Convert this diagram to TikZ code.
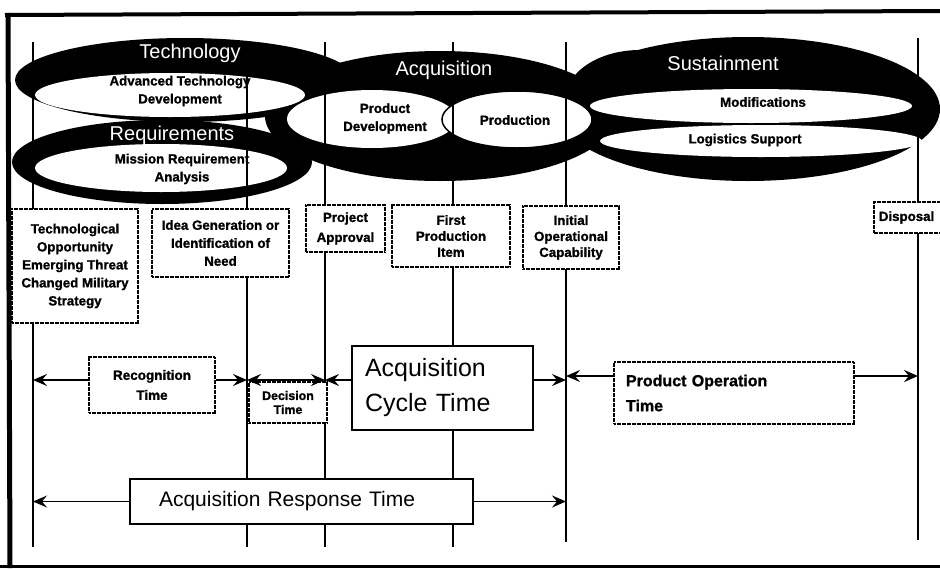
\documentclass[tikz,border=0pt]{standalone}
\usepackage{fontspec}
\setmainfont{Liberation Sans}[BoldFeatures={FakeBold=1.2}]
\usetikzlibrary{positioning,arrows.meta}

\tikzset{
  stipple/.style={draw, line width=1.7pt, dash pattern=on 2pt off 0.5pt, fill=white, inner sep=0pt, align=center},
  plainbox/.style={draw, line width=1.7pt, fill=white, inner sep=0pt},
  lbl/.style={font=\fontsize{13.3}{18}\selectfont\bfseries, align=center},
  tight/.style={font=\fontsize{13.3}{16}\selectfont\bfseries, align=center},
  head/.style={text=white, font=\fontsize{20}{24}\selectfont},
  vline/.style={line width=1.7pt},
  tip/.tip={Stealth[length=14pt,width=12pt,inset=5pt]},
  arr/.style={-tip, line width=1.8pt},
  arrboth/.style={tip-tip, line width=1.8pt},
}

\begin{document}
\begin{tikzpicture}[x=1pt,y=-1pt]
\useasboundingbox (0,0) rectangle (940,568);
\clip (0,0) rectangle (940,568);

% black phase bands
\fill (185,80) ellipse [x radius=170, y radius=42];
\fill (162,162) ellipse [x radius=150, y radius=42];
\fill (440,116) ellipse [x radius=175, y radius=65];
\fill (748,109) ellipse [x radius=192, y radius=72];
\fill (640,100) ellipse [x radius=75, y radius=50];

% white activity ellipses
\fill[white] (170,95) ellipse [x radius=135, y radius=22];
\fill[white] (161,168) ellipse [x radius=126, y radius=24];
\fill[white] (372,119) ellipse [x radius=85, y radius=29];
\filldraw[fill=white, line width=1.5pt] (517,119.5) ellipse [x radius=75, y radius=28.5];
\fill[white] (751,106) ellipse [x radius=161, y radius=17];
\fill[white] (761,141) ellipse [x radius=161, y radius=16];

% milestone lines
\foreach \n/\x/\t/\b in {1/33/42/547, 2/247/42/547, 3/325/42/547, 4/453/42/547, 5/566/42/542, 6/918/38/540} {
  \coordinate (t\n) at (\x,\t);
  \coordinate (b\n) at (\x,\b);
  \draw[vline] (t\n) -- (b\n);
}

% phase and activity labels
\node[head] (techlbl) at (190,53) {Technology};
\node[head] (reqlbl) at (172,135) {Requirements};
\node[head] (acqlbl) at (444,70) {Acquisition};
\node[head] (suslbl) at (723,63) {Sustainment};
\node[lbl] (advlbl) at (180,91) {Advanced Technology\\Development};
\node[lbl] (mislbl) at (182,169) {Mission Requirement\\Analysis};
\node[lbl] (pdlbl) at (385,118.5) {Product\\Development};
\node[lbl] (prodlbl) at (515,120) {Production};
\node[lbl] (modlbl) at (763,102) {Modifications};
\node[lbl] (loglbl) at (745,140) {Logistics Support};

% milestone boxes
\node[stipple, lbl, minimum width=126pt, minimum height=114pt] (techopp) at (75,266) {Technological\\Opportunity\\Emerging Threat\\Changed Military\\Strategy};
\node[stipple, lbl, minimum width=137pt, minimum height=68pt] (ideagen) at (220.5,243) {Idea Generation or\\Identification of\\Need};
\node[stipple, font=\fontsize{13.3}{20}\selectfont\bfseries, minimum width=79pt, minimum height=47pt] (approval) at (345.5,228.5) {Project\\Approval};
\node[stipple, tight, minimum width=118pt, minimum height=62pt] (firstitem) at (451,236) {First\\Production\\Item};
\node[stipple, tight, minimum width=96pt, minimum height=63pt] (ioc) at (571,237.5) {Initial\\Operational\\Capability};
\node[stipple, lbl, anchor=west, text width=72pt, align=left, inner xsep=5pt, minimum height=31pt] (disposal) at (873,217.5) {Disposal};

% time span boxes
\node[stipple, font=\fontsize{13.5}{20}\selectfont\bfseries, minimum width=126pt, minimum height=56pt] (recog) at (152,385) {Recognition\\Time};
\node[stipple, font=\fontsize{12.4}{14}\selectfont\bfseries, minimum width=78pt, minimum height=41pt] (decision) at (288,402.5) {Decision\\Time};
\node[plainbox, font=\fontsize{25}{35}\selectfont, text width=155pt, align=left, inner xsep=13pt, minimum height=84pt] (cycle) at (442.5,388) {Acquisition\\Cycle Time};
\node[stipple, font=\fontsize{16}{25}\selectfont\bfseries, text width=216pt, align=left, inner xsep=12pt, minimum height=62pt] (prodop) at (734,393) {Product Operation\\Time};
\node[plainbox, font=\fontsize{21}{25}\selectfont, text width=285pt, align=left, inner xsep=29pt, minimum height=45pt] (response) at (301.5,501.5) {Acquisition Response Time};

% span arrows
\coordinate (row) at (0,380);
\coordinate (oprow) at (0,376);
\draw[arr] (recog.west |- row) -- (t1 |- row);
\draw[arr] (recog.east |- row) -- (t2 |- row);
\draw[arrboth] (t2 |- row) -- (t3 |- row);
\draw[arr] (cycle.west |- row) -- (t3 |- row);
\draw[arr] (cycle.east |- row) -- (t5 |- row);
\draw[arr] (prodop.west |- oprow) -- (t5 |- oprow);
\draw[arr] (prodop.east |- oprow) -- (t6 |- oprow);
\draw[arr] (response.west) -- (t1 |- response.west);
\draw[arr] (response.east) -- (t5 |- response.east);

% frame
\draw[line width=4pt] (5,15) -- (940,11);
\draw[line width=5pt] (8,13) -- (10,568);
\draw[line width=3pt] (0,566) -- (940,566);
\end{tikzpicture}
\end{document}
